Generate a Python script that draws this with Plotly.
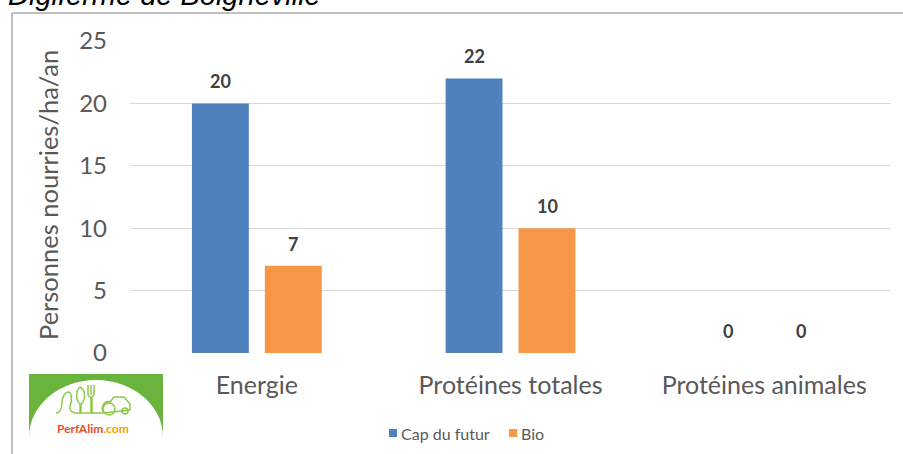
import plotly.graph_objects as go

# ---- data ----
categories = ["Energie", "Protéines totales", "Protéines animales"]
series_names = ["Cap du futur", "Bio"]
cap_du_futur = [20, 22, 0]
bio = [7, 10, 0]
y_ticks = [0, 5, 10, 15, 20, 25]

colors = {"Cap du futur": "#4F81BD", "Bio": "#F79646"}

W, H = 903, 454
ML, MR, MT, MB = 130, 12, 41, 101
PW, PH = W - ML - MR, H - MT - MB


def px(x):
    return (x - ML) / PW


def py(y):
    return (H - MB - y) / PH


def pt(x, y):
    return f"{px(x):.5f},{py(y):.5f}"


fig = go.Figure()
for name, vals in zip(series_names, [cap_du_futur, bio]):
    fig.add_trace(go.Bar(
        x=categories, y=vals, name=name, showlegend=False,
        marker=dict(color=colors[name], line=dict(width=0)),
    ))

annotations = []
shapes = []

# value labels above each bar
offset = 36.5
for k, vals in enumerate([cap_du_futur, bio]):
    for cat, v in zip(categories, vals):
        annotations.append(dict(
            x=cat, y=v, xref="x", yref="y", text=f"<b>{v}</b>",
            showarrow=False, xshift=(-offset if k == 0 else offset),
            yshift=22, xanchor="center", yanchor="middle",
            font=dict(family="Lato", size=18, color="#404040"),
        ))

# axis title
annotations.append(dict(
    x=px(48), y=py(195), xref="paper", yref="paper", xanchor="center", yanchor="middle",
    text="Personnes nourries/ha/an", textangle=-90, showarrow=False,
    font=dict(family="Lato", size=25.5, color="#595959"),
))

# chart title, partly above the page edge
annotations.append(dict(
    x=px(6), y=py(12.5), xref="paper", yref="paper", xanchor="left", yanchor="bottom",
    text="<i>Digiferme de Boigneville</i>", showarrow=False,
    font=dict(family="Liberation Sans, Arial", size=29, color="#000000"),
))

# legend: small square swatch followed by the series name
legend_items = [("Cap du futur", 389), ("Bio", 509)]
for name, x0 in legend_items:
    shapes.append(dict(type="rect", xref="paper", yref="paper",
                       x0=px(x0), x1=px(x0 + 8), y0=py(437), y1=py(429),
                       fillcolor=colors[name], line=dict(width=0)))
    annotations.append(dict(
        x=px(x0 + 10), y=py(433), xref="paper", yref="paper", xanchor="left", yanchor="middle",
        text=name, showarrow=False, font=dict(family="Lato", size=16, color="#595959"),
    ))

# chart frame
border = "#BFBFBF"
shapes.append(dict(type="line", xref="paper", yref="paper",
                   x0=px(12), x1=px(W), y0=py(13), y1=py(13),
                   line=dict(color=border, width=2)))
shapes.append(dict(type="line", xref="paper", yref="paper",
                   x0=px(12), x1=px(12), y0=py(13), y1=py(H),
                   line=dict(color=border, width=2)))

# logo: green panel with white arch and line drawing
lx0, lx1, ly0, ly1 = 29, 163, 374, 437
shapes.append(dict(type="rect", xref="paper", yref="paper",
                   x0=px(lx0), x1=px(lx1), y0=py(ly1), y1=py(ly0),
                   fillcolor="#6AB43E", line=dict(width=0)))
cx, cy, rx, ry = 96, 437, 67, 57
kx, ky = 0.5523 * rx, 0.5523 * ry
arch = (f"M {pt(cx - rx, cy)} C {pt(cx - rx, cy - ky)} {pt(cx - kx, cy - ry)} {pt(cx, cy - ry)} "
        f"C {pt(cx + kx, cy - ry)} {pt(cx + rx, cy - ky)} {pt(cx + rx, cy)} Z")
shapes.append(dict(type="path", xref="paper", yref="paper", path=arch,
                   fillcolor="#FFFFFF", line=dict(width=0)))

green = "#8CC84B"
doodle = (f"M {pt(56, 413)} C {pt(60, 413)} {pt(62, 408)} {pt(62, 402)} "
          f"C {pt(62, 396)} {pt(66, 392)} {pt(68, 392)} C {pt(71, 392)} {pt(73, 398)} {pt(70, 406)} "
          f"C {pt(69, 410)} {pt(72, 413)} {pt(76, 413)} L {pt(80, 413)} L {pt(80, 404)} "
          f"C {pt(75, 400)} {pt(76, 390)} {pt(80, 387)} C {pt(86, 390)} {pt(86, 400)} {pt(81, 404)} "
          f"L {pt(81, 413)} L {pt(91, 413)} L {pt(91, 398)} L {pt(88, 395)} L {pt(88, 385)} "
          f"M {pt(91, 395)} L {pt(91, 385)} M {pt(94, 395)} L {pt(94, 385)} "
          f"M {pt(91, 398)} L {pt(94, 395)} M {pt(92, 398)} L {pt(92, 413)} L {pt(104, 413)} "
          f"C {pt(100, 408)} {pt(104, 400)} {pt(110, 402)} L {pt(114, 397)} L {pt(124, 397)} "
          f"L {pt(130, 404)} L {pt(130, 410)} L {pt(104, 413)}")
shapes.append(dict(type="path", xref="paper", yref="paper", path=doodle,
                   line=dict(color=green, width=1.5)))
shapes.append(dict(type="circle", xref="paper", yref="paper",
                   x0=px(103), x1=px(115), y0=py(415), y1=py(403),
                   line=dict(color=green, width=1.5)))
shapes.append(dict(type="circle", xref="paper", yref="paper",
                   x0=px(122), x1=px(128), y0=py(414), y1=py(408),
                   line=dict(color=green, width=1.5)))
annotations.append(dict(
    x=px(93), y=py(428), xref="paper", yref="paper", xanchor="center", yanchor="middle",
    text="<b><span style='color:#E8501E'>PerfAlim</span><span style='color:#F5A000'>.com</span></b>",
    showarrow=False, font=dict(family="Lato", size=12),
))

fig.update_layout(
    width=W, height=H,
    margin=dict(l=ML, r=MR, t=MT, b=MB, autoexpand=False),
    paper_bgcolor="#FFFFFF", plot_bgcolor="#FFFFFF",
    barmode="group", bargap=0.425, bargroupgap=0.22,
    font=dict(family="Lato", color="#595959"),
    showlegend=False,
    annotations=annotations,
    shapes=shapes,
)
fig.update_xaxes(
    type="category", showgrid=False, zeroline=False, showline=False, ticks="", automargin=False,
    tickfont=dict(family="Lato", size=25, color="#595959"), ticklabelstandoff=15,
)
fig.update_yaxes(
    range=[0, 25], tickvals=y_ticks, showgrid=True, gridcolor="#D9D9D9", gridwidth=1,
    zeroline=False, showline=False, ticks="", automargin=False,
    tickfont=dict(family="Lato", size=24, color="#595959"), ticklabelstandoff=22,
)

fig.write_html("out.html")
